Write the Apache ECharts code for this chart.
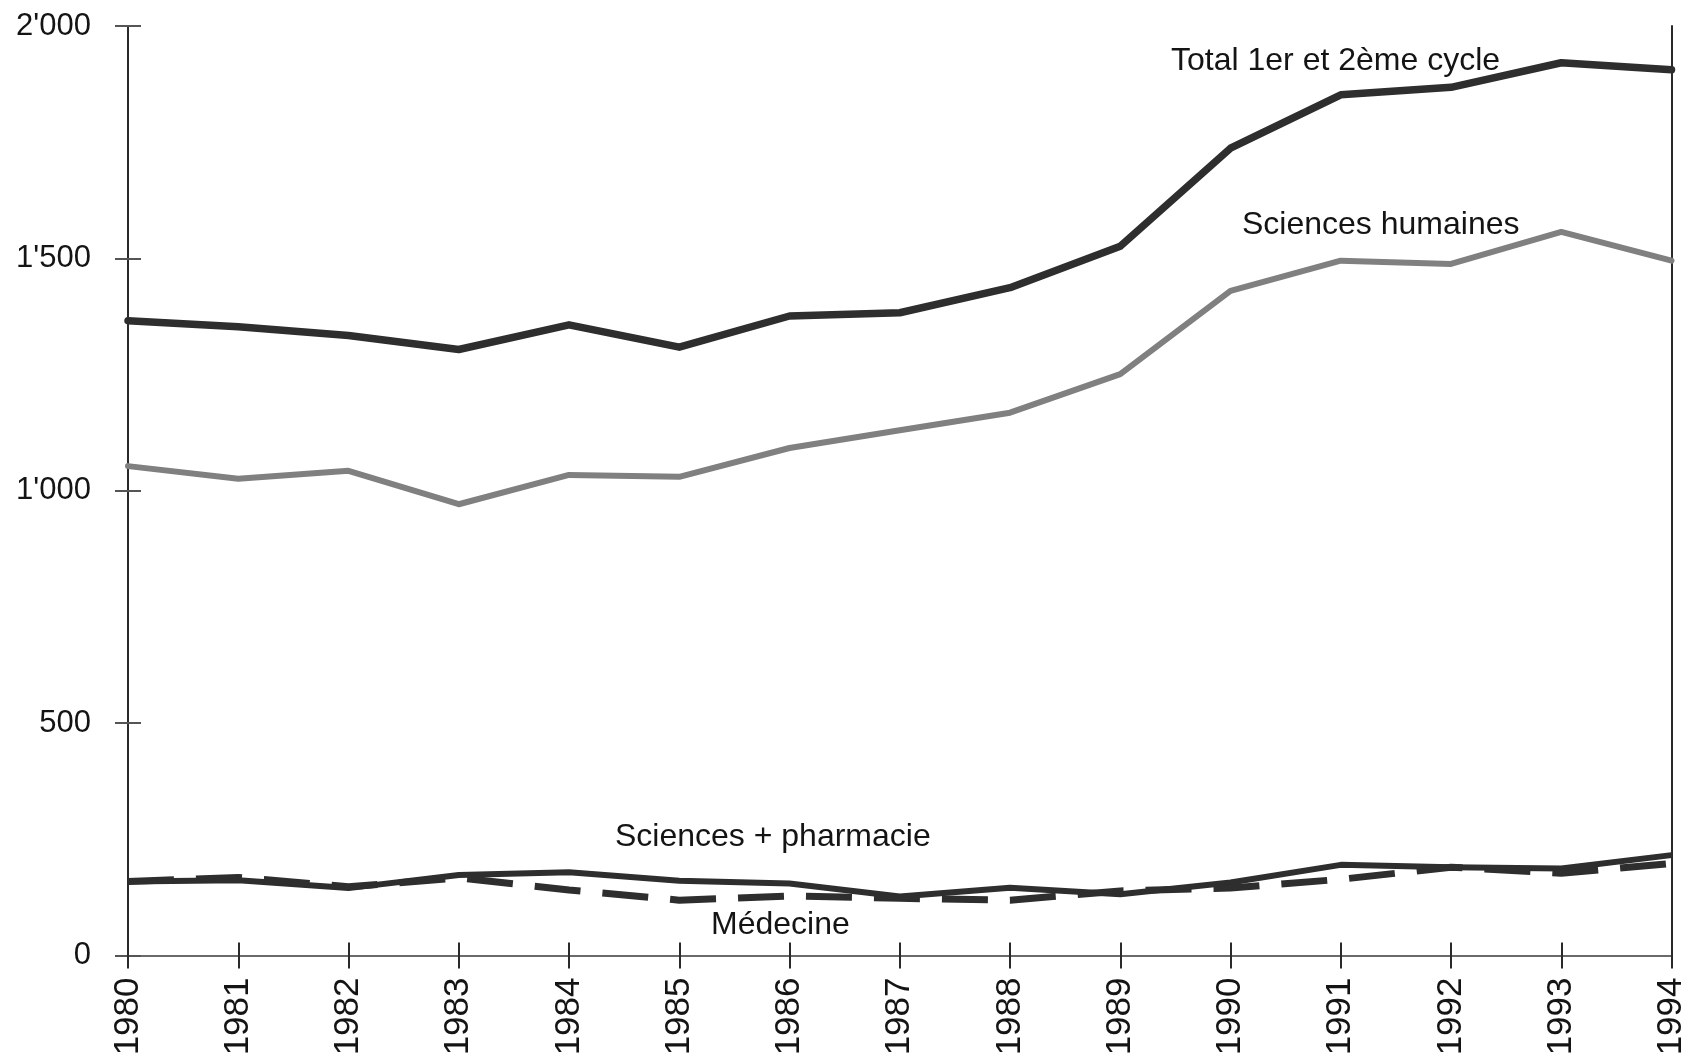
<!DOCTYPE html>
<html>
<head>
<meta charset="utf-8">
<script src="https://cdn.jsdelivr.net/npm/echarts@6/dist/echarts.min.js"></script>
<style>
html,body{margin:0;padding:0;background:#fff;}
#chart{width:1689px;height:1064px;}
</style>
</head>
<body>
<div id="chart"></div>
<script>
const years = ['1980','1981','1982','1983','1984','1985','1986','1987','1988','1989','1990','1991','1992','1993','1994'];
const totalCycle = [1366,1353,1334,1304,1357,1309,1376,1383,1437,1526,1737,1852,1868,1921,1906];
const sciencesHumaines = [1053,1026,1043,971,1034,1030,1092,1130,1168,1251,1430,1495,1488,1557,1495];
const sciencesPharmacie = [159,162,145,173,179,161,155,127,146,132,157,195,190,187,216];
const medecine = [159,168,148,167,141,119,128,123,119,139,145,164,190,177,198];
const yTickLabels = ["0","500","1'000","1'500","2'000"];
const seriesNames = ['Total 1er et 2ème cycle','Sciences humaines','Sciences + pharmacie','Médecine'];

const FONT = '"Liberation Sans", Arial, Helvetica, sans-serif';
const INK = '#141414';
const chart = echarts.init(document.getElementById('chart'));

function txt(text, x, y) {
  return {type:'text', left:x, top:y, style:{text:text, fill:INK, font:'32px ' + FONT}};
}

chart.setOption({
  backgroundColor:'#ffffff',
  animation:false,
  grid:{left:128, top:26, right:12, bottom:108.5, containLabel:false},
  xAxis:[
    {type:'category', data:years, boundaryGap:false, position:'bottom',
     axisLine:{show:true, lineStyle:{color:'#2a2a2a', width:2}},
     axisTick:{show:true, inside:false, length:13, lineStyle:{color:'#2a2a2a', width:2}},
     axisLabel:{rotate:90, fontSize:35, fontFamily:FONT, color:INK, margin:22},
     splitLine:{show:false}},
    {type:'category', data:years, boundaryGap:false, position:'bottom',
     axisLine:{show:false},
     axisTick:{show:true, inside:true, length:13, lineStyle:{color:'#2a2a2a', width:2}},
     axisLabel:{show:false}, splitLine:{show:false}},
    {type:'category', data:years, boundaryGap:false, position:'top',
     axisLine:{show:true, lineStyle:{color:'#6a6a6a', width:2}},
     axisTick:{show:false}, axisLabel:{show:false}, splitLine:{show:false}}
  ],
  yAxis:[
    {type:'value', min:0, max:2000, interval:500, position:'left',
     axisLine:{show:true, lineStyle:{color:'#2a2a2a', width:2}},
     axisTick:{show:true, inside:false, length:13, lineStyle:{color:'#555', width:2}},
     axisLabel:{fontSize:31, fontFamily:FONT, color:INK, margin:37,
       formatter:function(v){ return yTickLabels[Math.round(v/500)]; }},
     splitLine:{show:false}},
    {type:'value', min:0, max:2000, interval:500, position:'left',
     axisLine:{show:false},
     axisTick:{show:true, inside:true, length:13, lineStyle:{color:'#555', width:2}},
     axisLabel:{show:false}, splitLine:{show:false}},
    {type:'value', min:0, max:2000, interval:500, position:'right',
     axisLine:{show:true, lineStyle:{color:'#2a2a2a', width:2}},
     axisTick:{show:false}, axisLabel:{show:false}, splitLine:{show:false}}
  ],
  series:[
    {name:seriesNames[0], type:'line', data:totalCycle, showSymbol:false, xAxisIndex:0, yAxisIndex:0,
     lineStyle:{color:'#2e2e2e', width:7.5, join:'round', cap:'round'}},
    {name:seriesNames[1], type:'line', data:sciencesHumaines, showSymbol:false, xAxisIndex:0, yAxisIndex:0,
     lineStyle:{color:'#808080', width:6, join:'round', cap:'round'}},
    {name:seriesNames[2], type:'line', data:sciencesPharmacie, showSymbol:false, xAxisIndex:0, yAxisIndex:0,
     lineStyle:{color:'#2e2e2e', width:6, join:'round'}},
    {name:seriesNames[3], type:'line', data:medecine, showSymbol:false, xAxisIndex:0, yAxisIndex:0,
     lineStyle:{color:'#2e2e2e', width:7, type:[46,22]}}
  ],
  graphic:[
    txt(seriesNames[0], 1171, 45),
    txt(seriesNames[1], 1242, 209),
    txt(seriesNames[2], 615, 821),
    txt(seriesNames[3], 711, 909)
  ]
});
</script>
</body>
</html>
